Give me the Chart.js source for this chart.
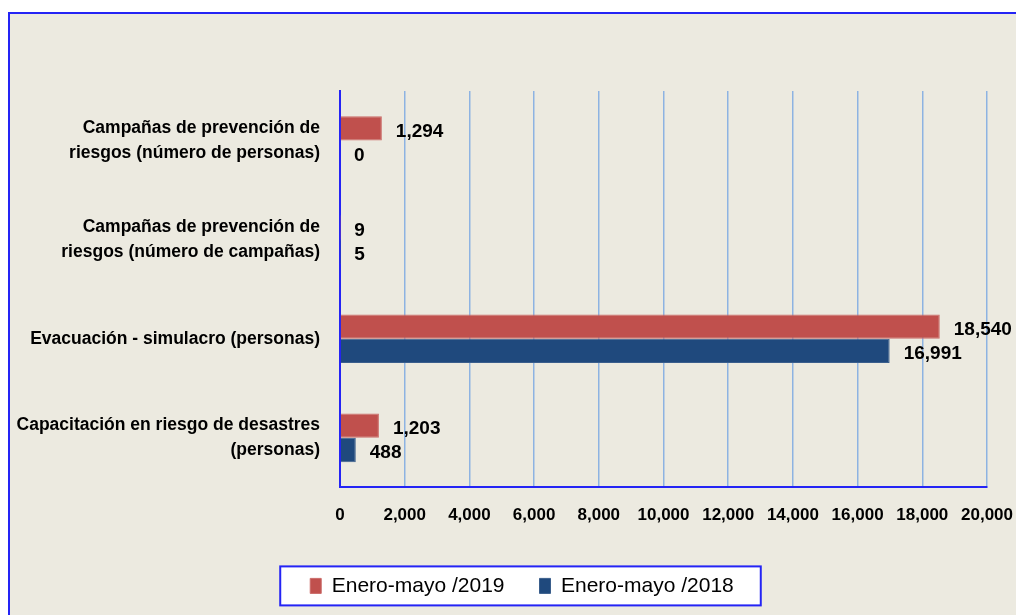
<html>
<head>
<style>
  body { margin: 0; background: #ffffff; }
</style>
</head>
<body>
<canvas id="myChart" width="1016" height="615"></canvas>

<script src="https://cdn.jsdelivr.net/npm/chart.js"></script>

<script>
  // categories, top to bottom
  const categories = [
    ['Campañas de prevención de', 'riesgos (número de personas)'],
    ['Campañas de prevención de', 'riesgos (número de campañas)'],
    'Evacuación - simulacro (personas)',
    ['Capacitación en riesgo de desastres', '(personas)']
  ];
  const seriesNames = ['Enero-mayo /2019', 'Enero-mayo /2018'];
  const values2019 = [1294, 9, 18540, 1203];
  const values2018 = [0, 5, 16991, 488];
  const xTicks = [0, 2000, 4000, 6000, 8000, 10000, 12000, 14000, 16000, 18000, 20000];

  const FONT = '"Liberation Sans", Arial, sans-serif';
  const BLUE_LINE = '#2424F5';
  const fmt = v => v.toLocaleString('en-US');

  // background panel + legend frame
  const frame = {
    id: 'frame',
    beforeLayout(chart) {
      // keep the legend short even with wide spacing between items,
      // and nudge it a bit to the right
      const lg = chart.legend;
      if (lg && !lg._fixedFit) {
        const fit = lg.fit.bind(lg);
        lg.fit = function () {
          fit();
          this.height = 60;
          if (this.lineWidths && this.lineWidths.length) this.lineWidths[0] -= 28;
        };
        lg._fixedFit = true;
      }
    },
    beforeDraw(chart) {
      const c = chart.ctx;
      c.save();
      c.fillStyle = '#ffffff';
      c.fillRect(0, 0, chart.width, chart.height);
      c.fillStyle = '#ECEAE0';
      c.fillRect(9, 13, chart.width, chart.height);
      c.strokeStyle = BLUE_LINE;
      c.lineWidth = 2;
      c.strokeRect(9, 13, chart.width + 10, chart.height + 10);

      const hb = chart.legend.legendHitBoxes;
      if (hb && hb.length) {
        const last = hb[hb.length - 1];
        const cy = hb[0].top + hb[0].height / 2;
        const l = hb[0].left - 30, r = last.left + last.width + 27;
        c.fillStyle = '#ffffff';
        c.fillRect(l, cy - 19.5, r - l, 39);
        c.strokeRect(l, cy - 19.5, r - l, 39);
      }
      c.restore();
    }
  };

  // value labels at bar ends
  const valueLabels = {
    id: 'valueLabels',
    afterDatasetsDraw(chart) {
      const c = chart.ctx;
      c.save();
      c.font = 'bold 19px ' + FONT;
      c.fillStyle = '#000000';
      c.textBaseline = 'middle';
      c.textAlign = 'left';
      chart.data.datasets.forEach((ds, i) => {
        chart.getDatasetMeta(i).data.forEach((bar, j) => {
          c.fillText(fmt(ds.data[j]), bar.x + 14, bar.y + 3);
        });
      });
      c.restore();
    }
  };

  const ctx = document.getElementById('myChart');

  chart = new Chart(ctx, {
    type: 'bar',
    data: {
      labels: categories,
      datasets: [{
        label: seriesNames[0],
        data: values2019,
        backgroundColor: '#C0504D',
        borderColor: '#CB6B68',
        borderWidth: 1,
        categoryPercentage: 0.49,
        barPercentage: 1
      }, {
        label: seriesNames[1],
        data: values2018,
        backgroundColor: '#1F497D',
        borderColor: '#3A5E8C',
        borderWidth: 1,
        categoryPercentage: 0.49,
        barPercentage: 1
      }]
    },
    plugins: [frame, valueLabels],
    options: {
      indexAxis: 'y',
      responsive: false,
      animation: false,
      layout: { padding: { left: 0, top: 91, right: 0, bottom: 14.6 } },
      plugins: {
        tooltip: { enabled: false },
        legend: {
          position: 'bottom',
          labels: {
            boxWidth: 11,
            boxHeight: 15,
            padding: 35,
            color: '#000000',
            font: { family: FONT, size: 21 }
          }
        }
      },
      scales: {
        x: {
          min: 0,
          max: 20000,
          afterBuildTicks: s => { s.ticks = xTicks.map(v => ({ value: v })); },
          afterFit: s => { s.height = 53; s.paddingLeft = 0; s.paddingRight = 29; },
          grid: { color: '#8DB3E2', lineWidth: 1.5, drawTicks: false },
          border: { color: BLUE_LINE, width: 2 },
          ticks: {
            padding: 18,
            maxRotation: 0,
            color: '#000000',
            font: { family: FONT, size: 17, weight: 'bold' },
            callback: v => fmt(v)
          }
        },
        y: {
          afterFit: s => { s.width = 340; },
          grid: { display: false, drawTicks: false },
          border: { color: BLUE_LINE, width: 2 },
          ticks: {
            padding: 20,
            crossAlign: 'near',
            color: '#000000',
            font: { family: FONT, size: 17.5, weight: 'bold', lineHeight: 1.45 }
          }
        }
      }
    }
  });
</script>
</body>
</html>
